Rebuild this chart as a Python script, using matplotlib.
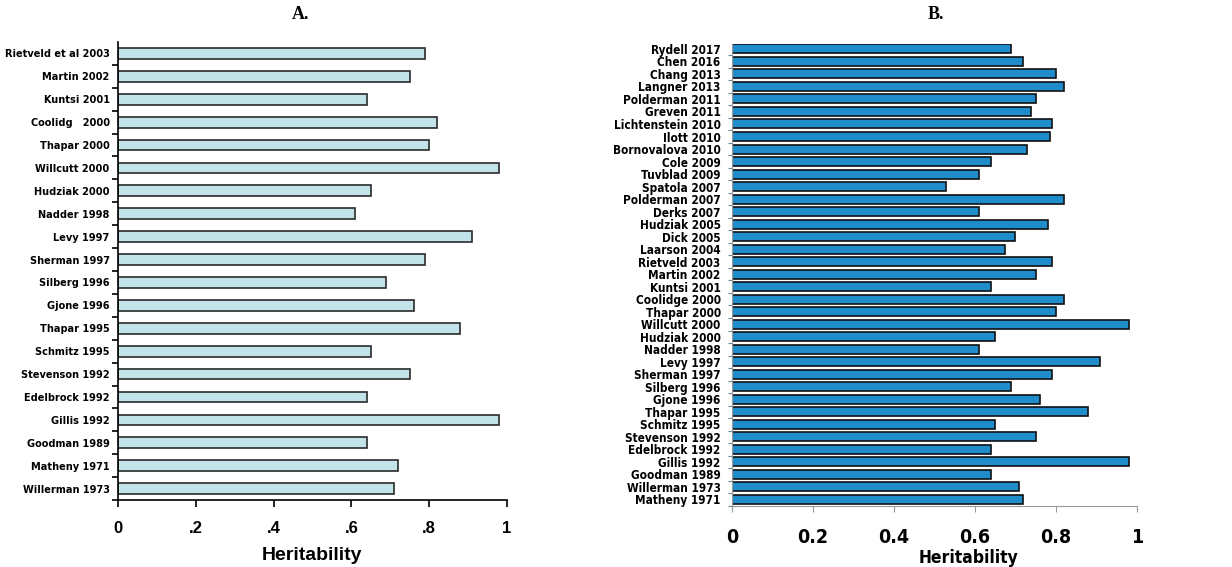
import matplotlib
matplotlib.use('Agg')
import matplotlib.pyplot as plt
from matplotlib import font_manager
import numpy as np

# panel A: older studies
studies_a = ["Rietveld et al 2003", "Martin 2002", "Kuntsi 2001", "Coolidg   2000",
             "Thapar 2000", "Willcutt 2000", "Hudziak 2000", "Nadder 1998",
             "Levy 1997", "Sherman 1997", "Silberg 1996", "Gjone 1996",
             "Thapar 1995", "Schmitz 1995", "Stevenson 1992", "Edelbrock 1992",
             "Gillis 1992", "Goodman 1989", "Matheny 1971", "Willerman 1973"]
herit_a = [0.79, 0.75, 0.64, 0.82, 0.80, 0.98, 0.65, 0.61, 0.91, 0.79,
           0.69, 0.76, 0.88, 0.65, 0.75, 0.64, 0.98, 0.64, 0.72, 0.71]

# panel B: updated list
studies_b = ["Rydell 2017", "Chen 2016", "Chang 2013", "Langner 2013",
             "Polderman 2011", "Greven 2011", "Lichtenstein 2010", "Ilott 2010",
             "Bornovalova 2010", "Cole 2009", "Tuvblad 2009", "Spatola 2007",
             "Polderman 2007", "Derks 2007", "Hudziak 2005", "Dick 2005",
             "Laarson 2004", "Rietveld 2003", "Martin 2002", "Kuntsi 2001",
             "Coolidge 2000", "Thapar 2000", "Willcutt 2000", "Hudziak 2000",
             "Nadder 1998", "Levy 1997", "Sherman 1997", "Silberg 1996",
             "Gjone 1996", "Thapar 1995", "Schmitz 1995", "Stevenson 1992",
             "Edelbrock 1992", "Gillis 1992", "Goodman 1989", "Willerman 1973",
             "Matheny 1971"]
herit_b = [0.69, 0.72, 0.80, 0.82, 0.75, 0.74, 0.79, 0.785, 0.73, 0.64,
           0.61, 0.53, 0.82, 0.61, 0.78, 0.70, 0.675, 0.79, 0.75, 0.64,
           0.82, 0.80, 0.98, 0.65, 0.61, 0.91, 0.79, 0.69, 0.76, 0.88,
           0.65, 0.75, 0.64, 0.98, 0.64, 0.71, 0.72]

ticks_a = [0, 0.2, 0.4, 0.6, 0.8, 1.0]
ticklabels_a = ["0", ".2", ".4", ".6", ".8", "1"]
ticks_b = [0, 0.2, 0.4, 0.6, 0.8, 1.0]
ticklabels_b = ["0", "0.2", "0.4", "0.6", "0.8", "1"]


def find_narrow_bold():
    """Look for an installed condensed/narrow bold face, None if there is none."""
    cands = []
    for f in font_manager.fontManager.ttflist:
        tag = (f.name + " " + f.fname).lower()
        if ("narrow" in tag or "condensed" in tag or f.stretch in
                ("condensed", "semi-condensed", 500 - 125)) and \
                ("bold" in tag or f.weight in ("bold", 700)):
            if "italic" in tag or "oblique" in tag or "light" in tag:
                continue
            if "extra" in tag or "ultra" in tag or "semi" in tag:
                continue
            cands.append(f)
    order = ["liberation", "dejavu", "roboto", "open", "noto"]
    for key in order:
        for f in cands:
            if key in f.fname.lower():
                return f.fname
    return cands[0].fname if cands else None


nb_path = find_narrow_bold()
if nb_path:
    def lab(size):
        return font_manager.FontProperties(fname=nb_path, size=size)
else:
    def lab(size):
        return font_manager.FontProperties(family="Liberation Sans",
                                           weight="bold", size=size)

fig = plt.figure(figsize=(12.32, 5.67), dpi=100)

# ---- A ----
axA = fig.add_axes([0.0958, 0.118, 0.3157, 0.808])
ya = np.arange(len(studies_a))
axA.barh(ya, herit_a, height=0.47, color="#c2e4e9", edgecolor="#2a2a2a",
         linewidth=1.2)
axA.set_xlim(0, 1)
axA.set_ylim(len(studies_a) - 0.55, -0.5)
axA.set_yticks(ya)
axA.set_yticklabels(studies_a, fontproperties=lab(7.8))
axA.set_yticks(np.arange(len(studies_a)) + 0.5, minor=True)
axA.tick_params(axis="y", which="major", length=0, pad=6)
axA.tick_params(axis="y", which="minor", length=4, width=1.2, direction="out")
axA.set_xticks(ticks_a)
axA.set_xticklabels(ticklabels_a, fontfamily="Liberation Sans", fontweight="bold",
                    fontsize=12)
axA.tick_params(axis="x", length=5, width=1.2, pad=10)
axA.spines["top"].set_visible(False)
axA.spines["right"].set_visible(False)
axA.spines["left"].set_linewidth(1.2)
axA.spines["bottom"].set_linewidth(1.2)
axA.set_xlabel("Heritability", fontfamily="Liberation Sans", fontweight="bold",
               fontsize=14, labelpad=8)
fig.text(0.244, 0.975, "A.", ha="center", va="center", fontfamily="Liberation Serif",
         fontweight="bold", fontsize=13)

# ---- B ----
axB = fig.add_axes([0.594, 0.1076, 0.3287, 0.815])
yb = np.arange(len(studies_b))
axB.barh(yb, herit_b, height=0.72, color="#1f8ccb", edgecolor="#111111",
         linewidth=1.2)
axB.set_xlim(0, 1)
axB.set_ylim(len(studies_b) - 0.48, -0.4)
axB.set_yticks(yb)
axB.set_yticklabels(studies_b, fontproperties=lab(8.5))
axB.set_yticks(np.arange(len(studies_b)) + 0.5, minor=True)
axB.tick_params(axis="y", which="major", length=0, pad=8)
axB.tick_params(axis="y", which="minor", length=3, width=0.8, color="#6a8a9a",
                direction="out")
axB.set_xticks(ticks_b)
axB.set_xticklabels(ticklabels_b, fontproperties=lab(14))
axB.tick_params(axis="x", length=4, width=0.8, color="#999999", pad=12)
axB.spines["top"].set_visible(False)
axB.spines["right"].set_visible(False)
axB.spines["left"].set_color("#999999")
axB.spines["bottom"].set_color("#999999")
axB.set_xlabel("Heritability", fontproperties=lab(12.5))
axB.xaxis.set_label_coords(0.585, -0.093)
fig.text(0.76, 0.975, "B.", ha="center", va="center", fontfamily="Liberation Serif",
         fontweight="bold", fontsize=13)

fig.savefig("out.png", dpi=100)
